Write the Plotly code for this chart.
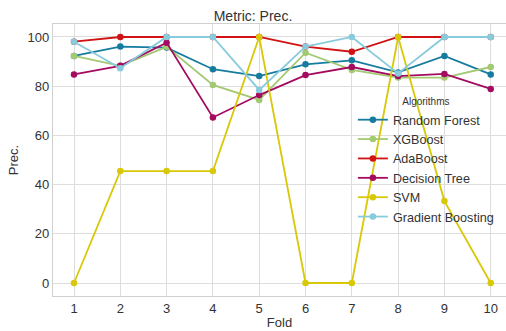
import plotly.graph_objects as go

folds = [1, 2, 3, 4, 5, 6, 7, 8, 9, 10]
random_forest = [92.3, 96.1, 95.7, 86.9, 84.1, 88.9, 90.5, 85.6, 92.3, 84.8]
xgboost = [92.3, 88.3, 96.0, 80.5, 74.4, 93.6, 86.6, 83.5, 83.5, 87.8]
adaboost = [98.1, 100, 100, 100, 100, 96.1, 94.0, 100, 100, 100]
decision_tree = [84.8, 88.3, 97.7, 67.3, 76.4, 84.5, 87.8, 84.1, 85.0, 78.9]
svm = [0, 45.5, 45.5, 45.5, 100, 0, 0, 100, 33.3, 0]
gradient_boosting = [98.1, 87.3, 100, 100, 78.5, 96.1, 100, 85.2, 100, 100]

series = [
    ("Random Forest", random_forest, "#167c9f"),
    ("XGBoost", xgboost, "#a3c972"),
    ("AdaBoost", adaboost, "#d01212"),
    ("Decision Tree", decision_tree, "#a30a60"),
    ("SVM", svm, "#d9c808"),
    ("Gradient Boosting", gradient_boosting, "#88cbdc"),
]

fig = go.Figure()
for name, vals, color in series:
    fig.add_trace(go.Scatter(
        x=folds, y=vals, name=name, mode="lines+markers",
        line=dict(color=color, width=1.8),
        marker=dict(color=color, size=6.5),
    ))

font = "Liberation Sans, Arial, sans-serif"
fig.update_layout(
    width=506, height=331,
    margin=dict(l=53, r=0, t=24, b=35),
    paper_bgcolor="white", plot_bgcolor="white",
    font=dict(family=font, size=13, color="#333333"),
    title=dict(text="Metric: Prec.", x=0.5, xanchor="center", y=0.952, yanchor="middle",
               font=dict(size=14, color="#333333")),
    showlegend=True,
    legend=dict(
        x=0.662, y=0.75, xanchor="left", yanchor="top",
        bgcolor="rgba(0,0,0,0)", borderwidth=0,
        font=dict(size=12.6, color="#333333"),
        title=dict(text="Algorithms", side="top center", font=dict(size=10, color="#333333")),
        itemwidth=30, tracegroupgap=0,
    ),
    xaxis=dict(
        range=[0.5465, 10.33], tickmode="array", tickvals=folds,
        ticktext=[str(f) for f in folds],
        showgrid=True, gridcolor="#dddddd", gridwidth=1,
        showline=True, linecolor="#d0d0d0", linewidth=1.2, mirror=True,
        zeroline=False, ticks="",
        title=dict(text="Fold", standoff=3, font=dict(size=13)),
    ),
    yaxis=dict(
        range=[-5.28, 105.28], tickvals=[0, 20, 40, 60, 80, 100],
        showgrid=True, gridcolor="#dddddd", gridwidth=1,
        showline=True, linecolor="#d0d0d0", linewidth=1.2, mirror=True,
        zeroline=False, ticks="",
        title=dict(text="Prec.", standoff=6, font=dict(size=13)),
    ),
)

fig.write_html("out.html")
